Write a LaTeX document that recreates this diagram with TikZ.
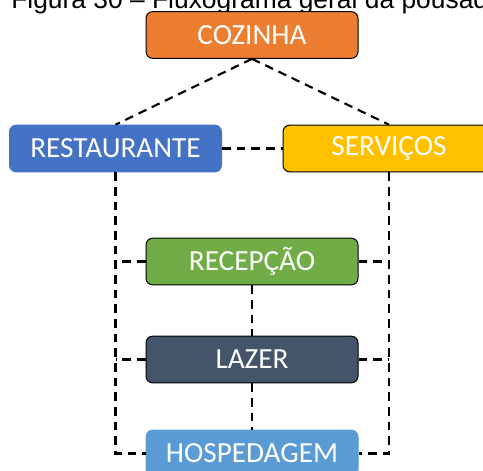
\documentclass[tikz,border=0pt]{standalone}
\definecolor{cozorange}{RGB}{237, 125, 49}
\definecolor{restblue}{RGB}{68, 114, 196}
\definecolor{servyellow}{RGB}{255, 192, 0}
\definecolor{recgreen}{RGB}{112, 173, 71}
\definecolor{lazslate}{RGB}{68, 84, 106}
\definecolor{hospblue}{RGB}{91, 155, 213}
\usepackage{fontspec}
\setmainfont{Carlito}
\newfontfamily\titlefont{Liberation Sans}
\usepackage{tikz}
\usetikzlibrary{positioning, calc}
\tikzset{
  flowbox/.style={rectangle, draw=black, fill=#1, rounded corners=5pt, minimum width=159pt, minimum height=35pt, inner sep=0pt, text=white, font=\fontsize{21.9}{26}\selectfont, line width=0.75pt},
  flowflat/.style={flowbox=#1, draw=#1},
  dashlink/.style={draw=black, line width=1.6pt, dash pattern=on 6.5pt off 4.5pt},
}
\begin{document}
\begin{tikzpicture}[x=0.75pt, y=-0.75pt]
\useasboundingbox (0,0) rectangle (483,471);
\clip (0,0) rectangle (483,471);

% Caption (cut by the top edge)
\node[anchor=base west, inner sep=0pt, font=\titlefont\fontsize{19.8}{24}\selectfont] (caption) at (11,8) {Figura 30 – Fluxograma geral da pousada};

% Boxes
\node[flowbox=cozorange] (coz) at (252,35) {COZINHA};
\node[flowflat=restblue] (rest) at (115.5,148.5) {RESTAURANTE};
\node[flowbox=servyellow] (serv) at (389,148.5) {SERVIÇOS};
\node[flowbox=recgreen] (rec) at (252,261.5) {RECEPÇÃO};
\node[flowbox=lazslate] (laz) at (252,359.5) {LAZER};
\node[flowflat=hospblue] (hosp) at (252,453.5) {HOSPEDAGEM};

% Links
\draw[dashlink] (coz.south) -- (rest.north);
\draw[dashlink] (coz.south) -- (serv.north);
\draw[dashlink] (rest.east) -- (serv.west);
\draw[dashlink] (rest.south) |- (hosp.west);
\draw[dashlink] (serv.south) |- (hosp.east);
\draw[dashlink] (rec.west) -- (rec.west -| rest.south);
\draw[dashlink] (laz.west) -- (laz.west -| rest.south);
\draw[dashlink] (rec.east) -- (rec.east -| serv.south);
\draw[dashlink] (laz.east) -- (laz.east -| serv.south);
\draw[dashlink] (rec.south) -- (laz.north);
\draw[dashlink] (laz.south) -- (hosp.north);
\end{tikzpicture}
\end{document}
